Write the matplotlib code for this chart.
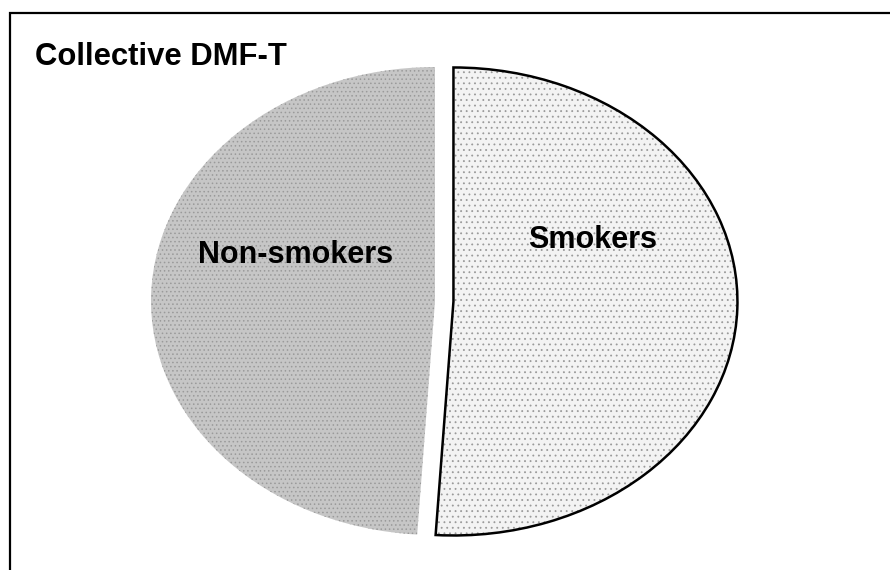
import matplotlib.pyplot as plt
from matplotlib.patches import Rectangle

labels = ["Smokers", "Non-smokers"]
shares = [51, 49]
colors = ["#f3f3f3", "#c6c6c6"]
dots = ["...", "...."]
explode = [0.065, 0]

W, H = 890, 570
fig = plt.figure(figsize=(W / 100, H / 100), dpi=100)
plt.rcParams['font.family'] = ['Liberation Sans', 'DejaVu Sans']
plt.rcParams['hatch.linewidth'] = 0.6

# chart frame (top and left edges visible)
fig.patches.append(Rectangle((9.5 / W, -0.1), 1.2, 1 - 13 / H + 0.1,
                             transform=fig.transFigure, fill=False,
                             edgecolor="black", linewidth=1.6))

fig.text(35 / W, 1 - 65 / H, "Collective DMF-T", fontsize=22.3,
         fontweight="bold", va="baseline", ha="left")

# pie box: x 151..719 px, y 67..535 px -> stretched into an ellipse
ax = fig.add_axes([151 / W, 1 - 535 / H, 568 / W, 468 / H])
pie_kw = dict(explode=explode, startangle=90, counterclock=False)

# flat fills
fills, _ = ax.pie(shares, colors=colors,
                  wedgeprops=dict(linewidth=0, zorder=1), **pie_kw)
# stipple texture on top of the fills
grain, _ = ax.pie(shares, hatch=dots,
                  wedgeprops=dict(facecolor="none", edgecolor="#9a9a9a",
                                  linewidth=0, zorder=2), **pie_kw)
# black outline around the smokers slice only
outline, _ = ax.pie(shares,
                    wedgeprops=dict(facecolor="none", edgecolor="black",
                                    linewidth=1.8, zorder=3), **pie_kw)
outline[1].set_visible(False)

for w in fills + grain + outline:
    w.set_clip_on(False)

ax.set_aspect("auto")
ax.set_xlim(-1, 1)
ax.set_ylim(-1, 1)
ax.axis("off")

ax.text(-0.49, 0.162, labels[1], fontsize=22, fontweight="bold",
        ha="center", va="baseline", zorder=5)
ax.text(0.556, 0.226, labels[0], fontsize=22, fontweight="bold",
        ha="center", va="baseline", zorder=5)

fig.savefig("out.png", dpi=100)
